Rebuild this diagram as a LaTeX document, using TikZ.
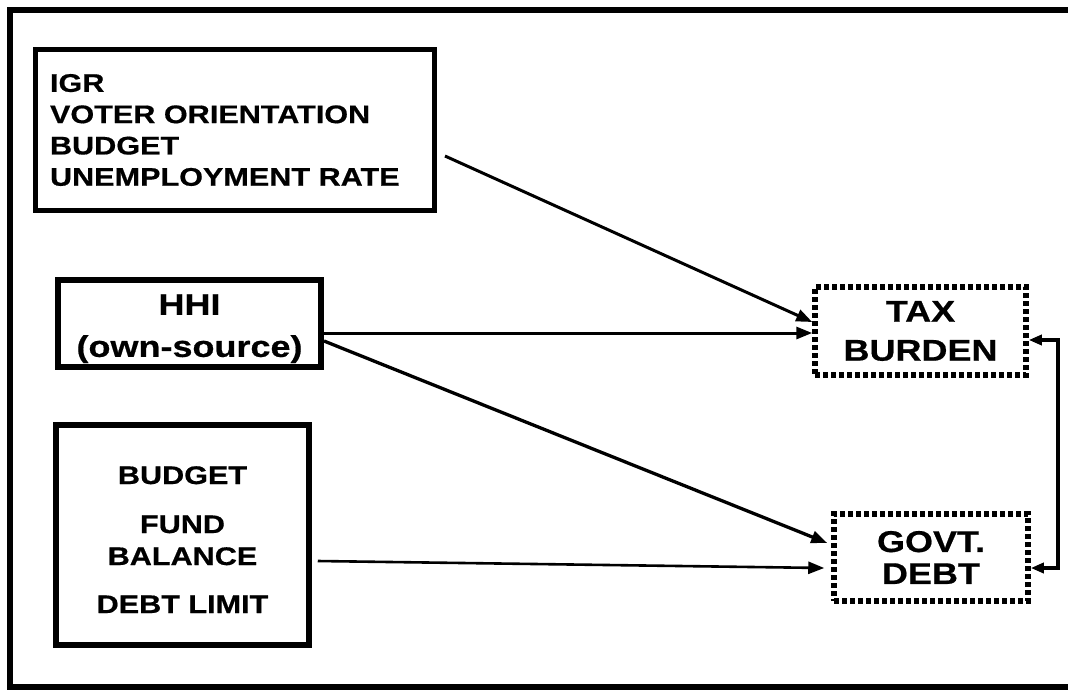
\documentclass[tikz,border=0pt]{standalone}
\usepackage{fontspec}
\setmainfont{Liberation Sans}[FakeStretch=1.2,FakeBold=0.6]
\usetikzlibrary{arrows.meta}
\begin{document}
\begin{tikzpicture}[x=1pt,y=-1pt,
  box/.style={draw,rectangle,inner sep=0pt,font=\bfseries},
  dotbox/.style={draw,rectangle,line width=5.5pt,dash pattern=on 5pt off 3pt,inner sep=0pt,align=center},
  arr/.style={line width=3pt,-{Triangle[length=16pt,width=12pt]}},
  dbl/.style={line width=3.5pt,{Triangle[length=13pt,width=10pt]}-{Triangle[length=13pt,width=10pt]}},
]
\clip (0,0) rectangle (1068,689);
\draw[line width=5.5pt] (10,10) rectangle (1090,687);

\node[box,line width=5pt,minimum width=399pt,minimum height=161pt,inner xsep=14.5pt,
      text width=370pt,align=left,font=\fontsize{25.5}{31.3}\selectfont\bfseries]
  (b1) at (235,130) {IGR\\VOTER ORIENTATION\\BUDGET\\UNEMPLOYMENT RATE};

\node[box,line width=6pt,minimum width=263pt,minimum height=87pt,align=center,
      font=\fontsize{30}{42}\selectfont\bfseries]
  (hhi) at (189.5,323.5) {\rule{0pt}{31pt}HHI\\(own-source)};

\node[box,line width=5.5pt,minimum width=253pt,minimum height=220pt,align=center,
      font=\fontsize{25.5}{32}\selectfont\bfseries]
  (b3) at (182.5,535) {\rule{0pt}{27pt}BUDGET\\[17pt]FUND\\BALANCE\\[16pt]DEBT LIMIT};

\node[dotbox,minimum width=211pt,minimum height=88pt,
      font=\fontsize{30}{39}\selectfont\bfseries]
  (tax) at (920.5,331) {TAX\\BURDEN};

\node[dotbox,minimum width=194pt,minimum height=87pt,
      font=\fontsize{30}{32}\selectfont\bfseries]
  (govt) at (931,557.5) {GOVT.\\DEBT};

\draw[arr] ([xshift=8pt,yshift=-26pt]b1.east) -- ([yshift=9pt]tax.west);
\draw[arr] ([yshift=-9.5pt]hhi.east) -- ([yshift=-2pt]tax.west);
\draw[arr,line width=3.3pt] ([yshift=-17.5pt]hhi.east) -- ([xshift=-4pt,yshift=14.5pt]govt.west);
\draw[arr,line width=2.6pt] ([xshift=6pt,yshift=-26pt]b3.east) -- ([xshift=-7pt,yshift=-10.5pt]govt.west);
\draw[dbl] ([yshift=-9pt]tax.east) -- ++(29,0) |- ([yshift=-10.5pt]govt.east);
\end{tikzpicture}
\end{document}
